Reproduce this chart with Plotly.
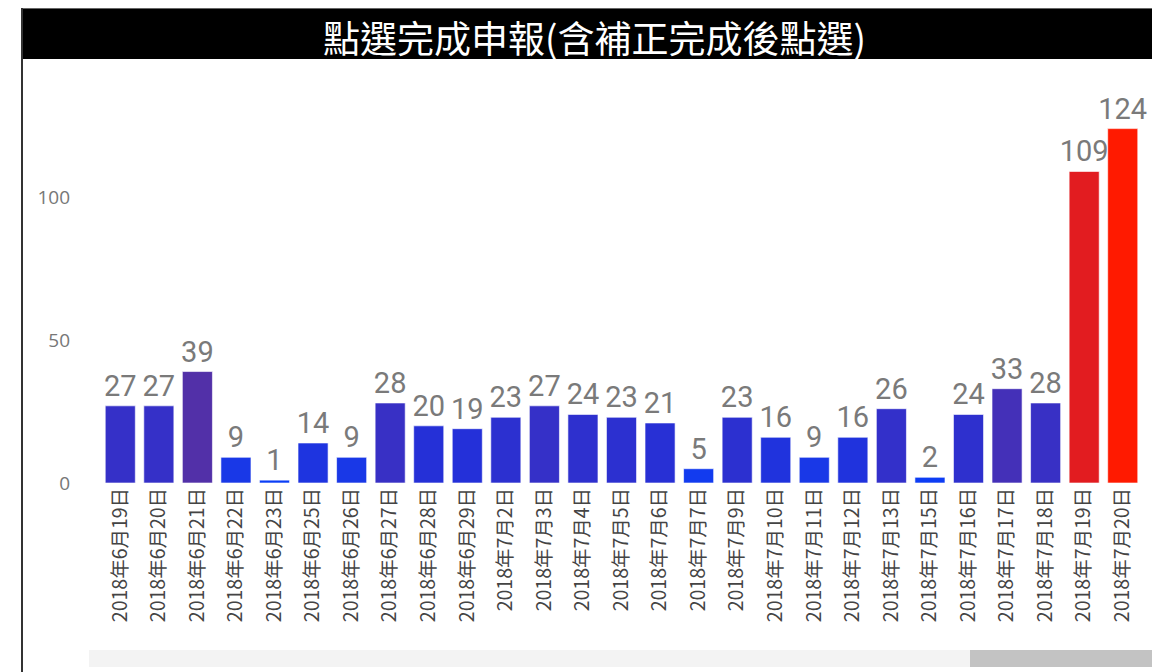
import plotly.graph_objects as go

categories = ["2018年6月19日", "2018年6月20日", "2018年6月21日", "2018年6月22日", "2018年6月23日",
              "2018年6月25日", "2018年6月26日", "2018年6月27日", "2018年6月28日", "2018年6月29日",
              "2018年7月2日", "2018年7月3日", "2018年7月4日", "2018年7月5日", "2018年7月6日",
              "2018年7月7日", "2018年7月9日", "2018年7月10日", "2018年7月11日", "2018年7月12日",
              "2018年7月13日", "2018年7月15日", "2018年7月16日", "2018年7月17日", "2018年7月18日",
              "2018年7月19日", "2018年7月20日"]
values = [27, 27, 39, 9, 1, 14, 9, 28, 20, 19, 23, 27, 24, 23, 21, 5, 23, 16, 9, 16, 26, 2, 24, 33, 28, 109, 124]
title_text = "點選完成申報(含補正完成後點選)"
y_ticks = [0, 50, 100]

W, H = 1152, 672
L, R, T, B = 101, 10, 60, 189
pw = W - L - R
ph = H - T - B

def px(p):
    return (p - L) / pw

def py(q):
    return (H - B - q) / ph

colorscale = [
    [0.0, "#0b3ef6"],
    [0.07, "#1a38e6"],
    [0.15, "#2430d8"],
    [0.21, "#3530c8"],
    [0.26, "#4430b8"],
    [0.31, "#5230a8"],
    [0.6, "#a02468"],
    [0.87, "#e01c22"],
    [1.0, "#ff1a00"],
]

fig = go.Figure()
fig.add_trace(go.Bar(
    x=categories,
    y=values,
    text=[str(v) for v in values],
    textposition="outside",
    constraintext="none",
    cliponaxis=False,
    textfont=dict(family="Roboto", size=29, color="#7a7a7a"),
    marker=dict(color=values, colorscale=colorscale, cmin=1, cmax=124,
                line=dict(color="rgba(255,255,255,0.6)", width=1)),
    hoverinfo="x+y",
))

shapes = [
    # title bar
    dict(type="rect", xref="paper", yref="paper", x0=px(22), x1=px(1152), y0=py(59), y1=py(9),
         fillcolor="black", line=dict(width=0), layer="below"),
    # top border
    dict(type="line", xref="paper", yref="paper", x0=px(21), x1=px(1152), y0=py(8.5), y1=py(8.5),
         line=dict(color="#666666", width=1)),
    # left border
    dict(type="line", xref="paper", yref="paper", x0=px(22), x1=px(22), y0=py(8), y1=py(672),
         line=dict(color="#333333", width=2)),
    # scrollbar track
    dict(type="rect", xref="paper", yref="paper", x0=px(89), x1=px(1152), y0=py(667), y1=py(650),
         fillcolor="#f3f3f3", line=dict(width=0)),
    # scrollbar thumb
    dict(type="rect", xref="paper", yref="paper", x0=px(970), x1=px(1152), y0=py(667), y1=py(650),
         fillcolor="#c3c3c3", line=dict(width=0)),
]

fig.update_layout(
    width=W, height=H,
    margin=dict(l=L, r=R, t=T, b=B, autoexpand=False),
    paper_bgcolor="white",
    plot_bgcolor="white",
    bargap=0.22,
    showlegend=False,
    shapes=shapes,
    annotations=[dict(text=title_text, xref="paper", yref="paper", x=px(594), y=py(37),
                      xanchor="center", yanchor="middle", showarrow=False,
                      font=dict(family="Noto Sans CJK TC", size=37, color="white"))],
    xaxis=dict(
        type="category",
        range=[-0.5, len(categories) - 0.5],
        tickangle=-90,
        tickfont=dict(family="Noto Sans CJK TC", size=19.5, color="#444444"),
        showgrid=False, zeroline=False, showline=False, ticks="",
        fixedrange=True,
    ),
    yaxis=dict(
        range=[0, ph / 2.858],
        tickvals=y_ticks,
        ticktext=[str(v) for v in y_ticks],
        tickfont=dict(family="Open Sans", size=19, color="#777777"),
        showgrid=False, zeroline=False, showline=False, ticks="",
        ticklabelstandoff=30,
        fixedrange=True,
    ),
)

fig.write_html("out.html")
